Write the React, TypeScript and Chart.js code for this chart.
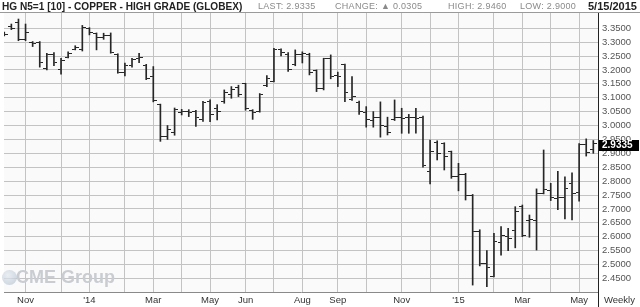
import { useEffect, useRef } from 'react';
import { Chart, registerables } from 'chart.js';

Chart.register(...registerables);

// Weekly bars, week index 0 = week ending Fri 1 Nov 2013; first bar is index -3
const FIRST_WEEK = -3;

const opens = [
  3.33, 3.355, 3.37,
  3.31, 3.30, 3.30, 3.205, 3.255, 3.20, 3.245, 3.275, 3.272, 3.35,
  3.33, 3.315, 3.325, 3.255, 3.19, 3.215, 3.24, 3.215, 3.175, 3.075,
  2.96, 2.975, 3.045, 3.05, 3.05, 3.02, 3.085, 3.06, 3.085, 3.11,
  3.135, 3.15, 3.055, 3.05, 3.145, 3.16, 3.272, 3.255, 3.22, 3.255,
  3.255, 3.198, 3.132, 3.24, 3.18, 3.218, 3.095, 3.083, 3.045, 3.018,
  3.028, 2.998, 3.02, 3.03, 3.03, 3.028, 3.03, 2.835, 2.94, 2.935,
  2.905, 2.815, 2.822, 2.748, 2.62, 2.505, 2.458, 2.578, 2.602, 2.622,
  2.71, 2.66, 2.66, 2.756, 2.768, 2.738, 2.742, 2.79, 2.758, 2.93, 2.915,
];
const highs = [
  3.336, 3.365, 3.383,
  3.365, 3.302, 3.302, 3.26, 3.262, 3.242, 3.265, 3.287, 3.36, 3.352,
  3.333, 3.332, 3.333, 3.258, 3.225, 3.242, 3.26, 3.22, 3.212, 3.077,
  3.0, 3.063, 3.058, 3.057, 3.055, 3.087, 3.092, 3.075, 3.128, 3.14,
  3.145, 3.152, 3.057, 3.115, 3.18, 3.278, 3.276, 3.262, 3.272, 3.265,
  3.26, 3.2, 3.242, 3.254, 3.192, 3.221, 3.176, 3.088, 3.068, 3.05,
  3.085, 3.03, 3.092, 3.062, 3.04, 3.062, 3.034, 2.948, 2.945, 2.938,
  2.908, 2.864, 2.828, 2.752, 2.625, 2.55, 2.612, 2.636, 2.63, 2.708,
  2.714, 2.678, 2.772, 2.912, 2.792, 2.835, 2.815, 2.83, 2.935, 2.952, 2.946,
];
const lows = [
  3.322, 3.345, 3.305,
  3.305, 3.284, 3.21, 3.20, 3.215, 3.185, 3.243, 3.272, 3.268, 3.326,
  3.272, 3.31, 3.26, 3.188, 3.178, 3.21, 3.226, 3.165, 3.085, 2.943,
  2.95, 2.965, 3.038, 3.032, 2.997, 3.015, 3.014, 3.02, 3.08, 3.098,
  3.104, 3.055, 3.022, 3.048, 3.14, 3.157, 3.25, 3.195, 3.215, 3.225,
  3.182, 3.122, 3.128, 3.168, 3.14, 3.086, 3.09, 3.04, 2.994, 2.994,
  2.958, 2.966, 3.018, 2.972, 2.972, 2.972, 2.85, 2.79, 2.876, 2.84,
  2.81, 2.765, 2.732, 2.426, 2.495, 2.42, 2.455, 2.534, 2.55, 2.56,
  2.6, 2.598, 2.552, 2.754, 2.73, 2.697, 2.664, 2.66, 2.728, 2.89, 2.90,
];
const closes = [
  3.327, 3.35, 3.31,
  3.335, 3.296, 3.225, 3.255, 3.225, 3.235, 3.258, 3.28, 3.352, 3.335,
  3.315, 3.322, 3.262, 3.192, 3.215, 3.238, 3.245, 3.17, 3.09, 2.96,
  2.985, 3.058, 3.05, 3.045, 3.03, 3.083, 3.04, 3.05, 3.12, 3.13,
  3.11, 3.06, 3.045, 3.11, 3.17, 3.275, 3.262, 3.2, 3.255, 3.26,
  3.19, 3.132, 3.24, 3.175, 3.178, 3.12, 3.105, 3.05, 3.02, 3.028,
  3.0, 2.975, 3.03, 3.025, 3.028, 3.025, 2.855, 2.905, 2.9, 2.888,
  2.816, 2.822, 2.748, 2.618, 2.504, 2.488, 2.582, 2.603, 2.592, 2.69,
  2.606, 2.662, 2.756, 2.77, 2.74, 2.74, 2.774, 2.756, 2.93, 2.903, 2.9335,
];

// first weekly bar of each month, and its label
const monthTicks = [0, 5, 9, 14, 18, 22, 26, 31, 35, 39, 44, 48, 53, 57, 61, 66, 70, 74, 78];
const monthLabels = ['Nov', '', "'14", '', 'Mar', '', 'May', 'Jun', '', 'Aug', 'Sep', '', 'Nov', '', "'15", '', 'Mar', '', 'May'];

const priceTicks = [2.45, 2.5, 2.55, 2.6, 2.65, 2.7, 2.75, 2.8, 2.85, 2.9, 2.95, 3.0, 3.05, 3.1, 3.15, 3.2, 3.25, 3.3, 3.35];

const BAR_COLOR = '#262626';
const GRID = '#c3c3c3';
const FONT = "'Liberation Sans', Arial, sans-serif";

function tickImage(side: 'left' | 'right') {
  const c = document.createElement('canvas');
  c.width = 7;
  c.height = 1;
  const ctx = c.getContext('2d')!;
  ctx.fillStyle = BAR_COLOR;
  ctx.fillRect(side === 'left' ? 0 : 4, 0, 3, 1);
  return c;
}

export default function App() {
  const ref = useRef<HTMLCanvasElement | null>(null);

  useEffect(() => {
    document.body.style.margin = '0';
    const canvas = ref.current!;
    const leftTick = tickImage('left');
    const rightTick = tickImage('right');
    const xs = highs.map((_, k) => k + FIRST_WEEK);

    const bgPlugin = {
      id: 'plotBg',
      beforeDraw(chart: any) {
        const { ctx, chartArea } = chart;
        ctx.save();
        ctx.fillStyle = '#fafafa';
        ctx.fillRect(chartArea.left, chartArea.top, chartArea.right - chartArea.left, chartArea.bottom - chartArea.top);
        ctx.restore();
      },
    };

    const lastPlugin = {
      id: 'lastBox',
      afterDraw(chart: any) {
        const { ctx, chartArea, scales } = chart;
        const last = closes[closes.length - 1];
        const y = scales.y.getPixelForValue(last);
        ctx.save();
        ctx.fillStyle = '#000';
        ctx.fillRect(chartArea.right + 1, Math.round(y) - 4, 40, 11);
        ctx.fillStyle = '#fff';
        ctx.font = `bold 10px ${FONT}`;
        ctx.textBaseline = 'middle';
        ctx.textAlign = 'left';
        ctx.fillText(last.toFixed(4), chartArea.right + 4, Math.round(y) + 1.5);
        ctx.restore();
      },
    };

    const chart = new Chart(canvas, {
      type: 'scatter',
      data: {
        datasets: [
          {
            type: 'bar',
            data: xs.map((x, k) => ({ x, y: [lows[k], highs[k]] })) as any,
            backgroundColor: BAR_COLOR,
            borderWidth: 0,
            barThickness: 1,
            grouped: false,
          } as any,
          {
            type: 'scatter',
            data: xs.map((x, k) => ({ x, y: opens[k] })),
            pointStyle: leftTick as any,
            pointRadius: 3,
            pointHoverRadius: 3,
          },
          {
            type: 'scatter',
            data: xs.map((x, k) => ({ x, y: closes[k] })),
            pointStyle: rightTick as any,
            pointRadius: 3,
            pointHoverRadius: 3,
          },
        ],
      },
      plugins: [bgPlugin, lastPlugin],
      options: {
        animation: false,
        responsive: false,
        devicePixelRatio: 1,
        events: [],
        layout: { padding: { top: 13, left: 0, right: 0, bottom: 0 } },
        plugins: { legend: { display: false }, tooltip: { enabled: false }, title: { display: false } },
        scales: {
          x: {
            type: 'linear',
            min: -3.037,
            max: 80.66,
            offset: false,
            grid: { color: GRID, drawTicks: false, offset: false },
            border: { display: true, color: '#8a8a8a' },
            afterBuildTicks: (scale: any) => {
              scale.ticks = monthTicks.map((v) => ({ value: v }));
            },
            afterFit: (scale: any) => {
              scale.height = 15;
            },
            ticks: {
              autoSkip: false,
              maxRotation: 0,
              padding: 3,
              color: '#333',
              font: { family: FONT, size: 9.5 },
              callback: (v: any) => {
                const k = monthTicks.indexOf(Number(v));
                return k >= 0 ? monthLabels[k] : '';
              },
            },
          },
          y: {
            type: 'linear',
            position: 'right',
            min: 2.4011,
            max: 3.4047,
            grid: { color: GRID, drawTicks: false },
            border: { display: true, color: '#222' },
            afterBuildTicks: (scale: any) => {
              scale.ticks = priceTicks.map((v) => ({ value: v }));
            },
            afterFit: (scale: any) => {
              scale.width = 42;
            },
            ticks: {
              padding: 4,
              color: '#555',
              font: { family: FONT, size: 9.5 },
              callback: (v: any) => Number(v).toFixed(4),
            },
          },
        },
      },
    });
    return () => chart.destroy();
  }, []);

  const hdr: React.CSSProperties = {
    position: 'absolute',
    top: 0,
    fontFamily: FONT,
    fontSize: 9,
    color: '#8a8a8a',
    lineHeight: '13px',
    whiteSpace: 'nowrap',
    letterSpacing: '0.3px',
  };

  return (
    <div style={{ position: 'fixed', left: 0, top: 0, width: 640, height: 307, background: '#fff', overflow: 'hidden' }}>
      <canvas ref={ref} width={640} height={307} style={{ position: 'absolute', left: 0, top: 0, width: 640, height: 307 }} />
      <div style={{ ...hdr, left: 2, fontSize: 10.1, fontWeight: 700, color: '#222', letterSpacing: 0 }}>
        HG N5=1 [10] - COPPER - HIGH GRADE (GLOBEX)
      </div>
      <div style={{ ...hdr, left: 258 }}>LAST: 2.9335</div>
      <div style={{ ...hdr, left: 335 }}>CHANGE: ▲ 0.0305</div>
      <div style={{ ...hdr, left: 448 }}>HIGH: 2.9460</div>
      <div style={{ ...hdr, left: 520 }}>LOW: 2.9000</div>
      <div style={{ ...hdr, left: 588, fontSize: 11, fontWeight: 700, color: '#222', letterSpacing: 0 }}>5/15/2015</div>
      <div style={{ position: 'absolute', left: 0, top: 12, width: 640, height: 1, background: '#9a9a9a' }} />
      <div style={{ position: 'absolute', left: 598, top: 13, width: 1, height: 294, background: '#222' }} />
      <div style={{ position: 'absolute', left: 604, top: 294, fontFamily: FONT, fontSize: 9.5, color: '#333', lineHeight: '12px' }}>Weekly</div>
      <div style={{ position: 'absolute', left: 2, top: 270, width: 15, height: 15, borderRadius: '50%', background: 'radial-gradient(circle at 40% 35%, #e3e9f0, #b3c0cd)', opacity: 0.75 }} />
      <div style={{ position: 'absolute', left: 16, top: 267, fontFamily: FONT, fontSize: 18, fontWeight: 700, color: '#c9cdd2', lineHeight: '20px', whiteSpace: 'nowrap' }}>
        CME Group
      </div>
    </div>
  );
}
